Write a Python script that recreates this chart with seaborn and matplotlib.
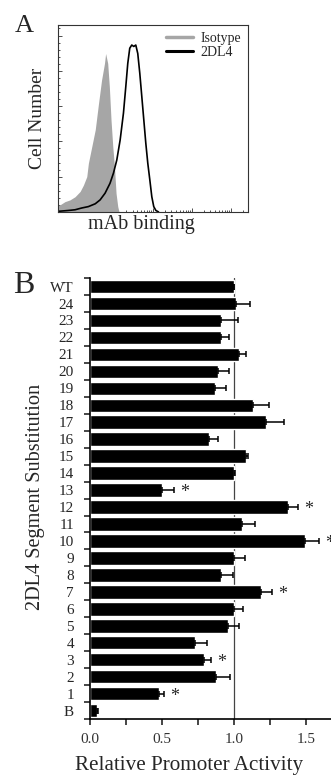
import numpy as np
import matplotlib
matplotlib.use('Agg')
import matplotlib.pyplot as plt
from matplotlib.lines import Line2D
from matplotlib.ticker import MultipleLocator, FixedLocator, FormatStrFormatter, LogLocator, NullFormatter
import seaborn as sns

# Panel A: flow histograms (intensity, cell count)
iso_intensity = [0.37, 0.41, 0.55, 0.74, 1.0, 1.35, 1.64, 2.0, 2.2, 2.7, 3.3, 4.0, 4.8,
                 5.7, 6.1, 6.9, 7.6, 8.4, 9.3, 10.3, 11.3, 12.5, 13.5]
iso_count = [18, 20, 29, 34, 43, 58, 76, 100, 138, 186, 233, 307, 374,
             421, 449, 421, 355, 260, 186, 127, 53, 15, 0]

dl4_intensity = [0.37, 0.41, 0.67, 1.0, 1.48, 2.2, 3.3, 4.4, 5.9, 7.9, 9.7, 11.8, 14.4,
                 17.5, 20.1, 22.6, 25.4, 28.6, 32.2, 36.3, 40.8, 46.0, 51.8, 58.3,
                 65.6, 73.8, 83.2, 93.6, 105, 119, 139]
dl4_count = [2, 2, 4, 6, 11, 15, 23, 34, 53, 81, 110, 147, 204,
             280, 355, 421, 464, 473, 469, 473, 449, 393, 327, 261,
             195, 138, 91, 43, 15, 4, 0]

# Panel B: promoter activity per segment substitution
segments = ['WT', '24', '23', '22', '21', '20', '19', '18', '17', '16', '15', '14', '13',
            '12', '11', '10', '9', '8', '7', '6', '5', '4', '3', '2', '1', 'B']
activity = [1.00, 1.016, 0.912, 0.912, 1.035, 0.89, 0.866, 1.13, 1.22, 0.825, 1.08, 1.00, 0.50,
            1.374, 1.055, 1.49, 1.00, 0.912, 1.19, 1.00, 0.96, 0.73, 0.79, 0.873, 0.478, 0.05]
activity_err = [0.0, 0.094, 0.118, 0.053, 0.05, 0.075, 0.081, 0.11, 0.13, 0.065, 0.02, 0.01, 0.08,
                0.069, 0.088, 0.10, 0.078, 0.081, 0.076, 0.06, 0.075, 0.083, 0.048, 0.097, 0.035, 0.005]
significant = ['13', '12', '10', '7', '3', '1']
x_ticklabels = [0.0, 0.5, 1.0, 1.5]

sns.set_style('ticks')
plt.rcParams['font.family'] = ['Liberation Serif', 'DejaVu Serif']

fig = plt.figure(figsize=(3.31, 7.79), dpi=100)

# ---- Panel A
axA = fig.add_axes([0.175, 0.728, 0.574, 0.240])
axA.fill_between(iso_intensity, iso_count, color='#a6a6a6', lw=0)
sns.lineplot(x=dl4_intensity, y=dl4_count, color='black', lw=1.2, estimator=None,
             sort=False, ax=axA)
axA.set_xscale('log')
axA.set_xlim(10 ** -0.44, 10 ** 4.44)
axA.set_ylim(0, 530)
axA.xaxis.set_major_locator(LogLocator(base=10, numticks=10))
axA.xaxis.set_minor_locator(LogLocator(base=10, subs=np.arange(2, 10), numticks=20))
axA.xaxis.set_minor_formatter(NullFormatter())
axA.yaxis.set_major_locator(MultipleLocator(100))
axA.yaxis.set_minor_locator(MultipleLocator(20))
axA.tick_params(which='both', direction='in', labelbottom=False, labelleft=False,
                width=0.6, color='#333333')
axA.tick_params(which='major', length=3)
axA.tick_params(which='minor', length=1.5)
for s in axA.spines.values():
    s.set_linewidth(0.8)
    s.set_color('#333333')
axA.set_xlabel('mAb binding', fontsize=14.5)
axA.set_ylabel('Cell Number', fontsize=14)
axA.xaxis.set_label_coords(0.437, -0.016)
axA.yaxis.set_label_coords(-0.063, 0.5)
handles = [Line2D([], [], color='#a6a6a6', lw=2.5), Line2D([], [], color='black', lw=2.2)]
axA.legend(handles, ['Isotype', '2DL4'], loc='upper right', bbox_to_anchor=(1, 1),
           frameon=False, fontsize=10, handlelength=2.0, handletextpad=0.5,
           labelspacing=0.1, borderaxespad=0.1)

# ---- Panel B
n = len(segments)
axB = fig.add_axes([0.272, 0.077, 0.870, 0.566])
axB.axvline(1.0, color='#444444', lw=0.9, zorder=0.5)
sns.barplot(x=activity, y=segments, order=segments, color='black', saturation=1,
            width=0.8, orient='h', ax=axB)
axB.errorbar(activity, np.arange(n), xerr=[np.zeros(n), activity_err], fmt='none',
             ecolor='black', elinewidth=1.1, capsize=2.5, capthick=1.1)
for i, seg in enumerate(segments):
    if seg in significant:
        axB.text(activity[i] + activity_err[i] + 0.075, i + 0.15, '*',
                 ha='center', va='center', fontsize=13)

axB.set_xlim(0, 2.0)
axB.set_ylim(n - 0.5, -0.5)
sns.despine(ax=axB)
for side in ['left', 'bottom']:
    axB.spines[side].set_linewidth(1.2)
    axB.spines[side].set_color('black')
axB.xaxis.set_major_locator(FixedLocator(x_ticklabels))
axB.xaxis.set_minor_locator(MultipleLocator(0.25))
axB.xaxis.set_major_formatter(FormatStrFormatter('%.1f'))
axB.tick_params(axis='x', which='both', direction='out', length=4, width=1.2,
                labelsize=11, pad=6, labelcolor='#333333')
axB.set_yticks(np.arange(n))
axB.set_yticklabels(segments)
axB.set_yticks(np.arange(-0.5, n, 1), minor=True)
axB.tick_params(axis='y', which='major', length=0, pad=11.5, labelsize=11)
axB.tick_params(axis='y', which='minor', direction='out', length=4, width=1.2)
axB.set_xlabel('Relative Promoter Activity', fontsize=15.2)
axB.set_ylabel('2DL4 Segment Substitution', fontsize=14.6)
axB.xaxis.set_label_coords(0.344, -0.084)
axB.yaxis.set_label_coords(-0.156, 0.503)

fig.text(24 / 331, 1 - 32 / 779, 'A', fontsize=19, ha='center', va='baseline')
fig.text(24 / 331, 1 - 293 / 779, 'B', fontsize=23, ha='center', va='baseline')

fig.savefig('out.png', dpi=100)
